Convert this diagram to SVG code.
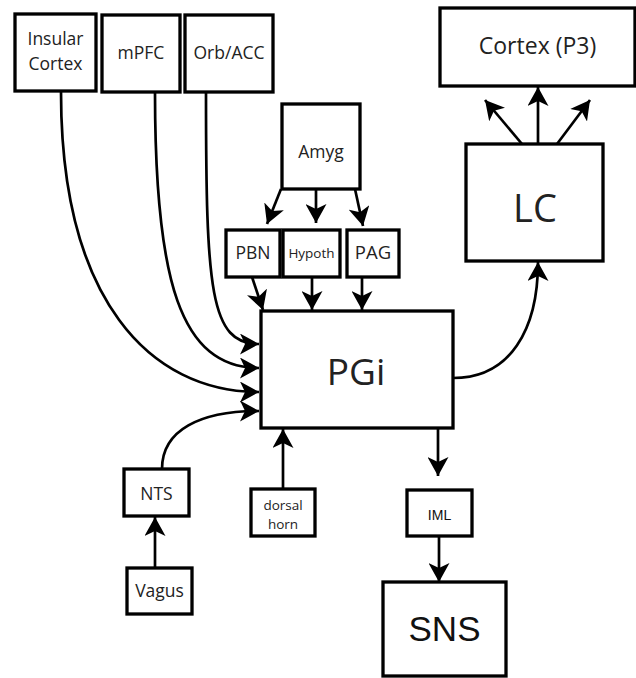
<svg xmlns="http://www.w3.org/2000/svg" width="636" height="678" viewBox="0 0 636 678">
<defs>
<style>
.box{fill:#fff;stroke:#000;stroke-width:3.3}
.t{font-family:"Open Sans","Liberation Sans",sans-serif;fill:#222;text-anchor:middle}
.a{font-family:"Liberation Sans",Arial,sans-serif;fill:#111;text-anchor:middle}
.c{fill:none;stroke:#000;stroke-width:2.7;marker-end:url(#ah)}
</style>
<marker id="ah" markerUnits="userSpaceOnUse" viewBox="0 0 19 21" refX="19" refY="10.5" markerWidth="19" markerHeight="21" orient="auto">
<path d="M0,0 L19,10.5 L0,21 L5,10.5 Z" fill="#000"/>
</marker>
</defs>
<rect width="636" height="678" fill="#fff"/>
<g id="connectors">
<path class="c" d="M61,92 C61,300 150,392 259,392"/>
<path class="c" d="M155,93 C155,280 180,368 259,368"/>
<path class="c" d="M206,93 C206,290 210,344 259,344"/>
<path class="c" d="M162,469 C162,430 200,411 259,411"/>
<path class="c" d="M453,378 C510,378 538,330 538,262"/>
<path class="c" d="M538,144 L538,87"/>
<path class="c" d="M522,144 L485,100"/>
<path class="c" d="M557,144 L590,100"/>
<path class="c" d="M281,189 L267,224"/>
<path class="c" d="M316,189 L316,223"/>
<path class="c" d="M355,189 L363,226"/>
<path class="c" d="M252,277 L263,310"/>
<path class="c" d="M312,277 L312,310"/>
<path class="c" d="M362,277 L362,310"/>
<path class="c" d="M283,489 L283,429"/>
<path class="c" d="M155,568 L155,517"/>
<path class="c" d="M438,428 L438,476"/>
<path class="c" d="M439,536 L439,582"/>
</g>
<g id="insular"><rect class="box" x="15" y="14" width="81" height="77"/><text class="t" x="55.5" y="45" font-size="17.5">Insular</text><text class="t" x="55.5" y="70" font-size="17.5">Cortex</text></g>
<g id="mpfc"><rect class="box" x="102" y="15" width="78" height="77"/><text class="t" x="141" y="59" font-size="17.5">mPFC</text></g>
<g id="orbacc"><rect class="box" x="185" y="15" width="88" height="77"/><text class="t" x="229" y="59" font-size="17.5">Orb/ACC</text></g>
<g id="cortexp3"><rect class="box" x="440" y="8" width="195" height="78"/><text class="t" x="537.5" y="54" font-size="23">Cortex (P3)</text></g>
<g id="lc"><rect class="box" x="466" y="144" width="137" height="117"/><text class="t" x="535" y="222" font-size="38">LC</text></g>
<g id="amyg"><rect class="box" x="282" y="104" width="78" height="85"/><text class="t" x="321" y="158" font-size="17.5">Amyg</text></g>
<g id="pbn"><rect class="box" x="226" y="230" width="54" height="47"/><text class="t" x="253" y="259" font-size="17.5">PBN</text></g>
<g id="hypoth"><rect class="box" x="283" y="230" width="57" height="47"/><text class="t" x="311.5" y="258" font-size="13.5">Hypoth</text></g>
<g id="pag"><rect class="box" x="347" y="230" width="52" height="47"/><text class="t" x="373" y="259" font-size="18.5">PAG</text></g>
<g id="pgi"><rect class="box" x="261" y="311" width="192" height="117"/><text class="t" x="356" y="385" font-size="37">PGi</text></g>
<g id="nts"><rect class="box" x="124" y="469" width="65" height="47"/><text class="t" x="156.5" y="500" font-size="17.5">NTS</text></g>
<g id="dorsalhorn"><rect class="box" x="251" y="489" width="64" height="47"/><text class="t" x="283" y="510" font-size="13.5">dorsal</text><text class="t" x="283" y="529" font-size="13.5">horn</text></g>
<g id="vagus"><rect class="box" x="127" y="568" width="65" height="46"/><text class="t" x="159.5" y="597" font-size="17.5">Vagus</text></g>
<g id="iml"><rect class="box" x="407" y="490" width="65" height="46"/><text class="a" x="439.5" y="520" font-size="14">IML</text></g>
<g id="sns"><rect class="box" x="383" y="582" width="123" height="94"/><text class="a" x="444.5" y="641" font-size="35">SNS</text></g>
</svg>
